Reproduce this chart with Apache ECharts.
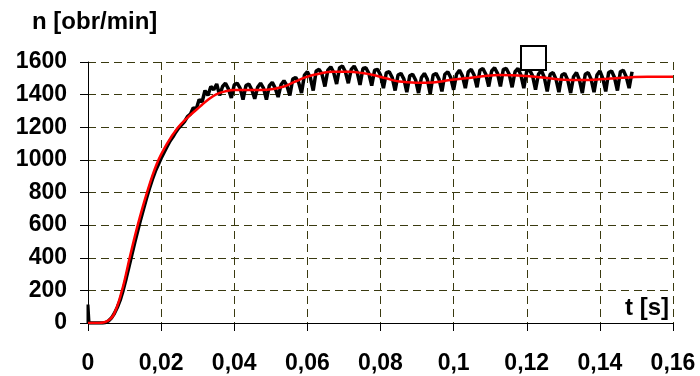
<!DOCTYPE html>
<html>
<head>
<meta charset="utf-8">
<script src="https://cdn.jsdelivr.net/npm/echarts@6/dist/echarts.min.js"></script>
<style>
html,body{margin:0;padding:0;background:#fff;}
#chart{width:700px;height:376px;}
</style>
</head>
<body>
<div id="chart"></div>
<script>
// x axis ticks (s)
var xTicks = [0, 0.02, 0.04, 0.06, 0.08, 0.1, 0.12, 0.14, 0.16];
// y axis ticks (obr/min)
var yTicks = [0, 200, 400, 600, 800, 1000, 1200, 1400, 1600];

// measured speed (black), sampled every 0.0008 s starting at t = 0
var measStep = 0.0008;
var measValues = [
  0, 0, 0, 0, 0, 0, 3, 12, 30, 58,
  95, 140, 200, 270, 345, 420, 495, 565, 635, 700,
  765, 825, 880, 930, 970, 1010, 1045, 1080, 1115, 1140,
  1170, 1195, 1215, 1235, 1265, 1280, 1320, 1310, 1370, 1355,
  1425, 1395, 1450, 1430, 1465, 1395, 1450, 1470, 1435, 1380,
  1460, 1470, 1440, 1370, 1455, 1465, 1430, 1375, 1445, 1470,
  1440, 1370, 1455, 1475, 1440, 1385, 1460, 1485, 1455, 1395,
  1495, 1505, 1475, 1410, 1520, 1540, 1505, 1425, 1545, 1555,
  1525, 1450, 1550, 1570, 1535, 1465, 1565, 1575, 1540, 1470,
  1555, 1575, 1540, 1460, 1560, 1565, 1530, 1455, 1550, 1555,
  1520, 1440, 1535, 1540, 1505, 1425, 1520, 1530, 1495, 1415,
  1515, 1525, 1490, 1410, 1505, 1530, 1495, 1405, 1520, 1530,
  1495, 1420, 1525, 1540, 1505, 1430, 1525, 1550, 1515, 1440,
  1540, 1555, 1520, 1445, 1550, 1560, 1525, 1450, 1545, 1565,
  1530, 1450, 1555, 1560, 1525, 1445, 1540, 1560, 1520, 1440,
  1545, 1550, 1515, 1430, 1525, 1550, 1505, 1420, 1525, 1535,
  1495, 1415, 1520, 1530, 1490, 1410, 1510, 1535, 1490, 1410,
  1525, 1535, 1495, 1415, 1520, 1545, 1500, 1420, 1535, 1545,
  1505, 1425, 1540, 1550, 1510, 1440, 1540
];
// initial spike of the measured signal
var spikeT = [0, 0, 0.0003];
var spikeV = [0, 113, 0];

// simulated speed (red)
var simT = [0, 0.003, 0.005, 0.007, 0.0093, 0.0114, 0.0136, 0.016, 0.0188, 0.0215,
  0.0245, 0.0275, 0.0307, 0.033, 0.0352, 0.0375, 0.04, 0.045, 0.049, 0.0534,
  0.0565, 0.0598, 0.0635, 0.067, 0.0716, 0.075, 0.078, 0.0815, 0.0852, 0.0898,
  0.0943, 0.0989, 0.1034, 0.108, 0.1125, 0.1198, 0.125, 0.1289, 0.135, 0.14,
  0.1443, 0.149, 0.153, 0.16];
var simV = [0, 0, 8, 50, 200, 400, 600, 790, 975, 1095,
  1195, 1265, 1328, 1372, 1403, 1420, 1428, 1428, 1430, 1448,
  1478, 1509, 1530, 1540, 1540, 1532, 1520, 1500, 1480, 1473,
  1475, 1489, 1500, 1512, 1520, 1514, 1503, 1493, 1489, 1494,
  1500, 1507, 1510, 1509];

var yName = 'n [obr/min]';
var xName = 't [s]';

var measData = measValues.map(function (v, i) { return [i * measStep, v]; });
var spikeData = spikeT.map(function (t, i) { return [t, spikeV[i]]; });
var simData = simT.map(function (t, i) { return [t, simV[i]]; });

var FONT = '"Liberation Sans", Arial, sans-serif';
var gridColor = '#3a3a10';

var chart = echarts.init(document.getElementById('chart'), null, {renderer: 'canvas'});
chart.setOption({
  animation: false,
  backgroundColor: '#fff',
  title: {
    text: yName,
    left: 27,
    top: 5,
    textStyle: {fontFamily: FONT, fontWeight: 'bold', fontSize: 24, color: '#000'}
  },
  grid: {left: 88, right: 27, top: 62, bottom: 53, containLabel: false},
  xAxis: {
    type: 'value',
    min: xTicks[0],
    max: xTicks[xTicks.length - 1],
    interval: 0.02,
    axisLine: {show: true, onZero: false, lineStyle: {color: '#000', width: 1}},
    axisTick: {show: true, inside: false, length: 8, lineStyle: {color: '#000'}},
    axisLabel: {
      margin: 29,
      fontFamily: FONT, fontWeight: 'bold', fontSize: 23, color: '#000',
      formatter: function (v) { return String(+v.toFixed(2)).replace('.', ','); }
    },
    splitLine: {show: true, lineStyle: {color: gridColor, type: [8, 5], width: 1}}
  },
  yAxis: {
    type: 'value',
    min: yTicks[0],
    max: yTicks[yTicks.length - 1],
    interval: 200,
    axisLine: {show: true, lineStyle: {color: '#000', width: 1}},
    axisTick: {show: true, inside: false, length: 8, lineStyle: {color: '#000'}},
    axisLabel: {
      margin: 21, fontFamily: FONT, fontWeight: 'bold', fontSize: 23, color: '#000',
      formatter: function (v) { return String(v); }
    },
    splitLine: {show: true, lineStyle: {color: gridColor, type: [8, 5], width: 1}}
  },
  graphic: [
    {
      type: 'text',
      right: 31,
      top: 296,
      style: {text: xName, font: 'bold 24px "Liberation Sans", Arial, sans-serif', fill: '#000'}
    },
    {
      type: 'rect',
      shape: {x: 521, y: 46, width: 25, height: 24},
      style: {fill: '#fff', stroke: '#000', lineWidth: 2},
      z: 100
    }
  ],
  series: [
    {
      type: 'line', data: spikeData, showSymbol: false, symbol: 'none',
      lineStyle: {color: '#000', width: 3}, z: 2
    },
    {
      type: 'line', data: measData, showSymbol: false, symbol: 'none',
      lineStyle: {color: '#000', width: 3.5}, z: 2
    },
    {
      type: 'line', data: simData, showSymbol: false, symbol: 'none', smooth: 0.4,
      lineStyle: {color: '#ff0000', width: 2.5}, z: 3
    }
  ]
});
</script>
</body>
</html>
